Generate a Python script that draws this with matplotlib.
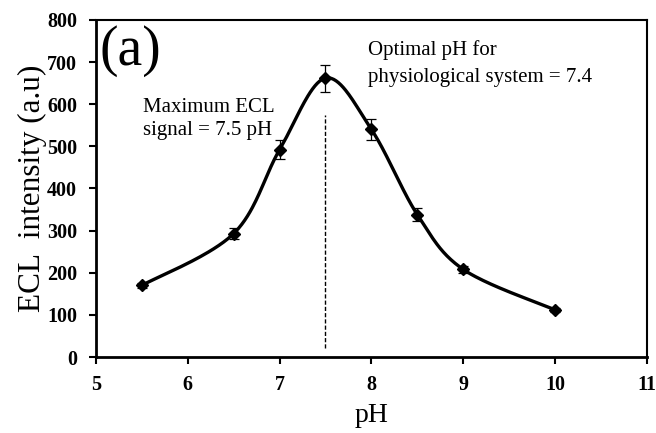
import matplotlib
matplotlib.use("Agg")
import matplotlib.pyplot as plt
import numpy as np

plt.rcParams['font.family'] = ['Liberation Serif', 'DejaVu Serif']

# measured ECL response vs pH
ph = [5.5, 6.5, 7.0, 7.5, 8.0, 8.5, 9.0, 10.0]
ecl = [170, 293, 492, 662, 540, 338, 208, 112]
ecl_err = [6, 14, 22, 32, 26, 16, 8, 5]

xticks = [5, 6, 7, 8, 9, 10, 11]
yticks = [0, 100, 200, 300, 400, 500, 600, 700, 800]

peak_ph = 7.5
peak_line_top = 575
peak_line_bottom = 22


def smooth_curve(x, y, n=40):
    # bezier smoothing of a polyline, same idea as a spreadsheet "smoothed line"
    x = np.asarray(x, float)
    y = np.asarray(y, float)
    px = np.concatenate([[x[0]], x, [x[-1]]])
    py = np.concatenate([[y[0]], y, [y[-1]]])
    xs, ys = [], []
    t = np.linspace(0, 1, n)
    for i in range(1, len(px) - 2):
        p0 = np.array([px[i], py[i]])
        p3 = np.array([px[i + 1], py[i + 1]])
        p1 = p0 + (np.array([px[i + 1], py[i + 1]]) - np.array([px[i - 1], py[i - 1]])) / 6
        p2 = p3 - (np.array([px[i + 2], py[i + 2]]) - np.array([px[i], py[i]])) / 6
        b = ((1 - t) ** 3)[:, None] * p0 + (3 * (1 - t) ** 2 * t)[:, None] * p1 \
            + (3 * (1 - t) * t ** 2)[:, None] * p2 + (t ** 3)[:, None] * p3
        xs.extend(b[:, 0])
        ys.extend(b[:, 1])
    return xs, ys


fig = plt.figure(figsize=(6.56, 4.33), dpi=100)
ax = fig.add_axes([0.1463, 0.1755, 0.8397, 0.7785])

cx, cy = smooth_curve(ph, ecl)
ax.plot(cx, cy, color='black', linewidth=2.4, zorder=3)
ax.errorbar(ph, ecl, yerr=ecl_err, fmt='D', color='black', markersize=6.5,
            ecolor='black', elinewidth=0.9, capsize=3.5, capthick=0.9, zorder=4)

ax.plot([peak_ph, peak_ph], [peak_line_bottom, peak_line_top], color='black',
        linestyle=(0, (3, 1.5)), linewidth=1.0, zorder=2)

ax.set_xlim(5, 11)
ax.set_ylim(0, 800)
ax.set_xticks(xticks)
ax.set_yticks(yticks)
ax.tick_params(axis='both', direction='out', length=5, width=1.5, labelsize=14.5)
ax.tick_params(axis='x', pad=8)
ax.tick_params(axis='y', pad=8.5)
for lab in ax.get_xticklabels() + ax.get_yticklabels():
    lab.set_fontweight('bold')
for sp in ax.spines.values():
    sp.set_linewidth(2.0)
ax.spines['top'].set_linewidth(1.5)
ax.spines['right'].set_linewidth(1.5)

ax.set_xlabel('pH', fontsize=20, labelpad=6)
ax.set_ylabel('ECL  intensity (a.u)', fontsize=22.5, labelpad=0)

ax.text(0.007, 0.866, '(a)', transform=ax.transAxes, fontsize=40,
        ha='left', va='baseline')
ax.text(0.085, 0.727, 'Maximum ECL', transform=ax.transAxes,
        fontsize=15, ha='left', va='baseline')
ax.text(0.085, 0.659, 'signal = 7.5 pH', transform=ax.transAxes,
        fontsize=15, ha='left', va='baseline')
ax.text(0.4936, 0.896, 'Optimal pH for', transform=ax.transAxes,
        fontsize=15, ha='left', va='baseline')
ax.text(0.4936, 0.816, 'physiological system = 7.4', transform=ax.transAxes,
        fontsize=15, ha='left', va='baseline')

fig.savefig('out.png', dpi=100)
